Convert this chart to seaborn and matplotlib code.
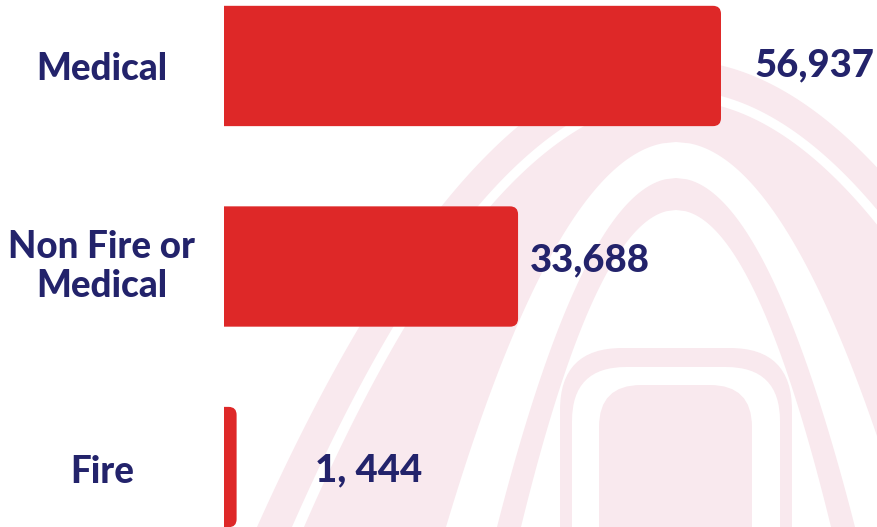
import numpy as np
import pandas as pd
import seaborn as sns
import matplotlib
matplotlib.use("Agg")
import matplotlib.pyplot as plt
from matplotlib.patches import FancyBboxPatch, Rectangle, Polygon
from matplotlib.transforms import ScaledTranslation

# Incident counts by call type
categories = ["Medical", "Non Fire or\nMedical", "Fire"]
incidents = [56937, 33688, 1444]
value_labels = ["56,937", "33,688", "1, 444"]

BAR_RED = "#DE2828"
NAVY = "#23236B"
PINK = "#F9E9EE"

sns.set_theme(style="white")
plt.rcParams["font.family"] = ["Lato", "DejaVu Sans"]

W, H = 877, 527
fig = plt.figure(figsize=(W / 100, H / 100), dpi=100)
fig.patch.set_facecolor("white")

# ---- faint helmet watermark behind the bars (pixel coordinates) ----
bg = fig.add_axes([0, 0, 1, 1], zorder=0)
bg.set_xlim(0, W)
bg.set_ylim(H, 0)
bg.axis("off")
cx = 676


def arch(apex_y, half_w, k=0.5, bottom=560):
    ys = np.linspace(apex_y, bottom, 300)
    offs = half_w * np.clip((ys - apex_y) / (H - apex_y), 0, None) ** k
    xs = np.concatenate([cx - offs[::-1], cx + offs])
    yy = np.concatenate([ys[::-1], ys])
    return np.column_stack([xs, yy])


def band(outer, inner, color=PINK):
    pts = np.vstack([outer, inner[::-1]])
    bg.add_patch(Polygon(pts, closed=True, facecolor=color, edgecolor="none"))


band(arch(60, 419), arch(90, 384))
band(arch(100, 372), arch(142, 230))
band(arch(178, 179), arch(210, 155))
bg.add_patch(FancyBboxPatch((560, 348), 232, 260, boxstyle="round,pad=0,rounding_size=62",
                            facecolor=PINK, edgecolor="none"))
bg.add_patch(FancyBboxPatch((572, 367), 208, 260, boxstyle="round,pad=0,rounding_size=54",
                            facecolor="white", edgecolor="none"))
bg.add_patch(FancyBboxPatch((599, 385), 153, 260, boxstyle="round,pad=0,rounding_size=42",
                            facecolor=PINK, edgecolor="none"))

# ---- bar chart ----
left_px = 224
ax = fig.add_axes([left_px / W, 0, (W - left_px) / W, 1], zorder=1)
ax.set_facecolor("none")

df = pd.DataFrame({"category": categories, "incidents": incidents})
sns.barplot(data=df, x="incidents", y="category", orient="h", color=BAR_RED,
            width=0.6, saturation=1, ax=ax)

ax.set_xlim(0, 74810)
ax.set_ylim(2.299, -0.329)

# scale factors (pixels per data unit) for rounding the bar ends
px_x = (W - left_px) / (ax.get_xlim()[1] - ax.get_xlim()[0])
px_y = H / abs(ax.get_ylim()[0] - ax.get_ylim()[1])
radius_px = 8
r_x = radius_px / px_x
aspect = (radius_px / px_y) / r_x

for bar in list(ax.patches):
    x0, y0 = bar.get_x(), bar.get_y()
    w, h = bar.get_width(), bar.get_height()
    rounded = FancyBboxPatch((x0 - r_x, y0), w + r_x, h,
                             boxstyle=f"round,pad=0,rounding_size={r_x}",
                             mutation_aspect=aspect, facecolor=BAR_RED,
                             edgecolor="none", zorder=2)
    ax.add_patch(rounded)
    rounded.set_clip_path(Rectangle((0, y0 - 1), w + 2 * r_x, h + 2,
                                    transform=ax.transData))
    bar.set_visible(False)

# value labels beside each bar
label_dx = [34, 12, 78]
label_dy = [1, 6, -3]
for i, (val, txt) in enumerate(zip(incidents, value_labels)):
    ax.annotate(txt, xy=(val, i), xytext=(label_dx[i] * 0.72, label_dy[i] * 0.72),
                textcoords="offset points", ha="left", va="center",
                fontsize=27.5, fontweight="black", color=NAVY, annotation_clip=False)

# category labels centred in the left margin
ax.tick_params(axis="y", length=0, pad=122 * 0.72)
tick_dy = [0, 6, -2]
for lbl, dy in zip(ax.get_yticklabels(), tick_dy):
    lbl.set_horizontalalignment("center")
    lbl.set_multialignment("center")
    lbl.set_fontsize(26.5)
    lbl.set_fontweight("black")
    lbl.set_color(NAVY)
    lbl.set_linespacing(1.2)
    lbl.set_transform(lbl.get_transform() + ScaledTranslation(0, dy / 100, fig.dpi_scale_trans))

ax.set_xlabel("")
ax.set_ylabel("")
ax.set_xticks([])
for s in ax.spines.values():
    s.set_visible(False)

fig.savefig("out.png", dpi=100, facecolor="white")
